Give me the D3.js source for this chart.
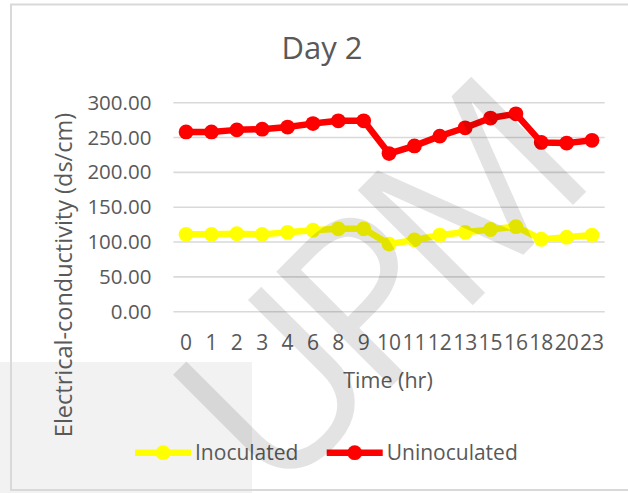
<!DOCTYPE html>
<html>
<head>
<meta charset="utf-8">
<script src="https://cdn.jsdelivr.net/npm/d3@7"></script>
<style>
  body { margin: 0; background: #fff; }
  text { font-family: "Open Sans", sans-serif; fill: #595959; }
</style>
</head>
<body>
<div id="chart"></div>
<script>
// values
var hours = ['0', '1', '2', '3', '4', '6', '8', '9', '10', '11', '12', '13', '15', '16', '18', '20', '23'];
var inoculated = [111, 111, 112, 111, 114, 117, 119, 119, 97, 103, 110, 114, 118, 122, 104, 107, 110];
var uninoculated = [258, 258, 261, 262, 265, 270, 274, 274, 227, 238, 252, 264, 278, 284, 243, 242, 246];
var yTicks = [0, 50, 100, 150, 200, 250, 300];
var seriesNames = ['Inoculated', 'Uninoculated'];

var W = 628, H = 493;
var plotLeft = 173.4, plotRight = 604.7, plotTop = 102.7, plotBottom = 311.7;

var svg = d3.select('#chart').append('svg')
  .attr('width', W)
  .attr('height', H);

// light panel bottom-left and chart frame
svg.append('rect').attr('x', 0).attr('y', 362).attr('width', 252).attr('height', H - 362).attr('fill', '#f1f2f1');
svg.append('rect')
  .attr('x', 11).attr('y', 4.5).attr('width', W + 20).attr('height', 485.5)
  .attr('fill', 'none').attr('stroke', '#d9d9d9').attr('stroke-width', 2);

var x = d3.scaleBand().domain(hours).range([plotLeft, plotRight]).padding(0);
var y = d3.scaleLinear().domain([0, 300]).range([plotBottom, plotTop]);

// gridlines
svg.append('g').selectAll('line')
  .data(yTicks)
  .enter().append('line')
  .attr('x1', plotLeft).attr('x2', plotRight)
  .attr('y1', function(d) { return y(d); })
  .attr('y2', function(d) { return y(d); })
  .attr('stroke', '#d9d9d9')
  .attr('stroke-width', 1.6);

// y axis labels
var yAxis = svg.append('g')
  .attr('transform', 'translate(' + (plotLeft - 22) + ',0)')
  .call(d3.axisLeft(y).tickValues(yTicks).tickSize(0).tickFormat(d3.format('.2f')));
yAxis.select('.domain').remove();
yAxis.selectAll('text').attr('x', 0).style('font-size', '20.5px').style('font-family', '"Open Sans", sans-serif').attr('fill', '#595959');

// x axis labels
var xAxis = svg.append('g')
  .attr('transform', 'translate(0,' + plotBottom + ')')
  .call(d3.axisBottom(x).tickSize(0));
xAxis.select('.domain').remove();
xAxis.selectAll('text').attr('y', 38.3).attr('dy', 0).style('font-size', '21px').style('font-family', '"Open Sans", sans-serif').attr('fill', '#595959');

var colors = ['#ffff00', '#ff0000'];
var allSeries = [inoculated, uninoculated];

var line = d3.line()
  .x(function(d, i) { return x(hours[i]) + x.bandwidth() / 2; })
  .y(function(d) { return y(d); });

allSeries.forEach(function(vals, s) {
  svg.append('path')
    .datum(vals)
    .attr('d', line)
    .attr('fill', 'none')
    .attr('stroke', colors[s])
    .attr('stroke-width', 6.5)
    .attr('stroke-linejoin', 'round');
  svg.append('g').selectAll('circle')
    .data(vals)
    .enter().append('circle')
    .attr('cx', function(d, i) { return x(hours[i]) + x.bandwidth() / 2; })
    .attr('cy', function(d) { return y(d); })
    .attr('r', 7.4)
    .attr('fill', colors[s]);
});

// titles
svg.append('text').attr('x', 322).attr('y', 59).attr('text-anchor', 'middle')
  .style('font-size', '31px').text('Day 2');
svg.append('text').attr('x', 388).attr('y', 388).attr('text-anchor', 'middle')
  .style('font-size', '21.5px').text('Time (hr)');
svg.append('text').attr('transform', 'translate(72,275) rotate(-90)').attr('text-anchor', 'middle')
  .style('font-size', '23.5px').text('Electrical-conductivity (ds/cm)');

// legend
var legendX = [135, 326.7];
seriesNames.forEach(function(name, s) {
  var g = svg.append('g').attr('transform', 'translate(' + legendX[s] + ',452.7)');
  g.append('line').attr('x1', 0).attr('x2', 56).attr('y1', 0).attr('y2', 0)
    .attr('stroke', colors[s]).attr('stroke-width', 6.5);
  g.append('circle').attr('cx', 28).attr('cy', 0).attr('r', 7.4).attr('fill', colors[s]);
  g.append('text').attr('x', 60).attr('y', 7.5).style('font-size', '21px').text(name);
});

// watermark
svg.append('text')
  .attr('transform', 'translate(372,290) rotate(-45)')
  .attr('text-anchor', 'middle')
  .attr('dy', '0.36em')
  .style('font-size', '228px')
  .style('font-weight', 500)
  .style('letter-spacing', '-22px')
  .style('fill', '#000')
  .style('fill-opacity', 0.11)
  .text('UPM');
</script>
</body>
</html>
